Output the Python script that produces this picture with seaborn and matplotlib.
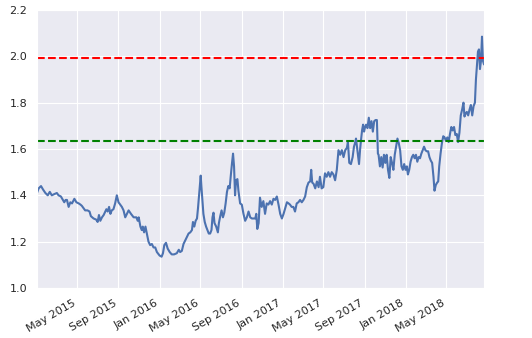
import matplotlib
matplotlib.use("Agg")
import matplotlib.pyplot as plt
import matplotlib.dates as mdates
import pandas as pd
import seaborn as sns

# Observation dates, as days elapsed since the first trading day of the series
start_date = "2015-01-02"
days = [
    0, 5, 12, 18, 25, 32, 38, 44, 51, 59,
    64, 71, 77, 81, 85, 89, 94, 99, 104, 111,
    117, 124, 129, 133, 138, 143, 150, 156, 160, 168,
    176, 180, 184, 188, 193, 198, 206, 210, 214, 218,
    222, 227, 232, 237, 242, 247, 252, 257, 262, 267,
    272, 279, 287, 295, 299, 302, 307, 311, 314, 318,
    322, 326, 331, 336, 341, 346, 351, 356, 364, 370,
    374, 378, 383, 388, 394, 400, 407, 415, 421, 425,
    430, 435, 440, 445, 450, 455, 460, 463, 467, 471,
    475, 478, 481, 484, 486, 488, 491, 494, 498, 502,
    506, 510, 514, 518, 521, 524, 527, 532, 537, 540,
    544, 548, 552, 556, 560, 564, 568, 572, 575, 579,
    582, 585, 588, 591, 595, 598, 603, 608, 613, 618,
    623, 628, 633, 638, 643, 648, 651, 654, 658,
    662, 667, 672, 677, 682, 687, 692, 697, 702, 707,
    712, 717, 722, 727, 732, 737, 742, 747, 751, 756,
    761, 766, 771, 776, 781, 786, 791, 796, 801, 806,
    811, 814, 817, 821, 826, 831, 836, 840, 845, 850,
    855, 860, 865, 870, 875, 880, 885, 890, 895, 900,
    905, 910, 915, 920, 923, 927, 932, 937, 941, 944,
    947, 951, 956, 959, 962, 965, 968, 971, 974, 977,
    981, 985, 989, 993, 997, 1001, 1005, 1009, 1012, 1014,
    1018, 1022, 1026, 1030, 1034, 1038, 1042, 1046, 1050, 1054,
    1058, 1062, 1066, 1070, 1074, 1078, 1082, 1086, 1090, 1094,
    1098, 1101, 1105, 1109, 1113, 1117, 1121, 1125, 1129, 1133,
    1137, 1141, 1145, 1149, 1153, 1157, 1161, 1165, 1169, 1173,
    1177, 1180, 1184, 1188, 1191, 1194, 1198, 1202, 1206, 1210,
    1214, 1218, 1222, 1226, 1230, 1234, 1238, 1242, 1246, 1250,
    1254, 1258, 1262, 1266, 1269, 1273, 1276, 1280, 1284, 1288,
    1292, 1296, 1300, 1303, 1306, 1309, 1312, 1315, 1318, 1321,
    1324, 1327,
]

values = [
    1.41, 1.43, 1.44, 1.425, 1.41, 1.40, 1.415, 1.40, 1.405, 1.41,
    1.40, 1.395, 1.38, 1.37, 1.38, 1.38, 1.35, 1.37, 1.365, 1.385,
    1.37, 1.365, 1.36, 1.355, 1.345, 1.335, 1.335, 1.33, 1.31, 1.30,
    1.295, 1.285, 1.315, 1.29, 1.305, 1.315, 1.34, 1.33, 1.35, 1.32,
    1.335, 1.34, 1.365, 1.40, 1.37, 1.36, 1.35, 1.335, 1.305, 1.32,
    1.335, 1.32, 1.305, 1.305, 1.29, 1.305, 1.265, 1.25, 1.265, 1.24,
    1.265, 1.235, 1.20, 1.185, 1.19, 1.175, 1.175, 1.155, 1.14, 1.135,
    1.15, 1.185, 1.195, 1.17, 1.155, 1.145, 1.145, 1.15, 1.165, 1.155,
    1.16, 1.19, 1.205, 1.22, 1.235, 1.24, 1.25, 1.285, 1.265, 1.29,
    1.30, 1.345, 1.395, 1.45, 1.485, 1.44, 1.38, 1.32, 1.285, 1.265,
    1.25, 1.235, 1.235, 1.25, 1.305, 1.325, 1.28, 1.265, 1.24, 1.28,
    1.31, 1.335, 1.305, 1.325, 1.365, 1.415, 1.44, 1.43, 1.48, 1.54,
    1.58, 1.525, 1.40, 1.465, 1.47, 1.42, 1.365, 1.36, 1.32, 1.29,
    1.305, 1.33, 1.305, 1.30, 1.30, 1.30, 1.32, 1.255, 1.28,
    1.39, 1.35, 1.375, 1.32, 1.365, 1.36, 1.375, 1.36, 1.385, 1.38,
    1.395, 1.36, 1.32, 1.30, 1.32, 1.345, 1.37, 1.365, 1.36, 1.35,
    1.35, 1.33, 1.365, 1.37, 1.38, 1.37, 1.38, 1.395, 1.435, 1.455,
    1.46, 1.51, 1.455, 1.45, 1.43, 1.46, 1.435, 1.48, 1.43, 1.435,
    1.495, 1.48, 1.50, 1.48, 1.50, 1.49, 1.465, 1.51, 1.595, 1.575,
    1.595, 1.565, 1.595, 1.605, 1.63, 1.54, 1.535, 1.565, 1.61, 1.625,
    1.645, 1.595, 1.535, 1.595, 1.64, 1.68, 1.705, 1.675, 1.695, 1.705,
    1.69, 1.735, 1.69, 1.72, 1.675, 1.72, 1.725, 1.725, 1.58, 1.575,
    1.525, 1.565, 1.52, 1.575, 1.54, 1.575, 1.51, 1.475, 1.565, 1.54,
    1.51, 1.575, 1.61, 1.645, 1.625, 1.595, 1.525, 1.51, 1.535, 1.51,
    1.525, 1.49, 1.51, 1.545, 1.565, 1.575, 1.56, 1.575, 1.545, 1.565,
    1.56, 1.58, 1.595, 1.61, 1.595, 1.59, 1.59, 1.565, 1.55, 1.54,
    1.48, 1.42, 1.445, 1.455, 1.46, 1.525, 1.58, 1.625, 1.655, 1.65,
    1.635, 1.65, 1.63, 1.665, 1.695, 1.68, 1.695, 1.66, 1.665, 1.63,
    1.67, 1.745, 1.77, 1.80, 1.74, 1.755, 1.76, 1.745, 1.77, 1.79,
    1.745, 1.785, 1.80, 1.90, 1.96, 2.02, 2.03, 1.945, 1.98, 2.085,
    1.98, 1.965,
]

# Reference levels drawn as dashed horizontal lines
upper_level = 1.993
lower_level = 1.635

y_ticks = [1.0, 1.2, 1.4, 1.6, 1.8, 2.0, 2.2]

dates = pd.Timestamp(start_date) + pd.to_timedelta(days, unit="D")
df = pd.DataFrame({"date": dates, "value": values})

sns.set_style("darkgrid")
fig = plt.figure(figsize=(5.32, 3.38), dpi=100)
ax = fig.add_axes([0.0695, 0.148, 0.8403, 0.8224])

sns.lineplot(data=df, x="date", y="value", ax=ax, color="#4C72B0", linewidth=1.5)
ax.axhline(upper_level, color="r", linestyle="--", linewidth=1.5)
ax.axhline(lower_level, color="g", linestyle="--", linewidth=1.5)

ax.set_xlim(df["date"].min(), df["date"].max())
ax.set_ylim(y_ticks[0], y_ticks[-1])
ax.set_yticks(y_ticks)
ax.yaxis.set_major_formatter(matplotlib.ticker.FormatStrFormatter("%.1f"))

ax.xaxis.set_major_locator(mdates.MonthLocator(bymonth=[1, 5, 9]))
ax.xaxis.set_major_formatter(mdates.DateFormatter("%b %Y"))
plt.setp(ax.get_xticklabels(), rotation=30, ha="right")
ax.tick_params(labelsize=8)
ax.set_xlabel("")
ax.set_ylabel("")

fig.savefig("out.png", dpi=100)
